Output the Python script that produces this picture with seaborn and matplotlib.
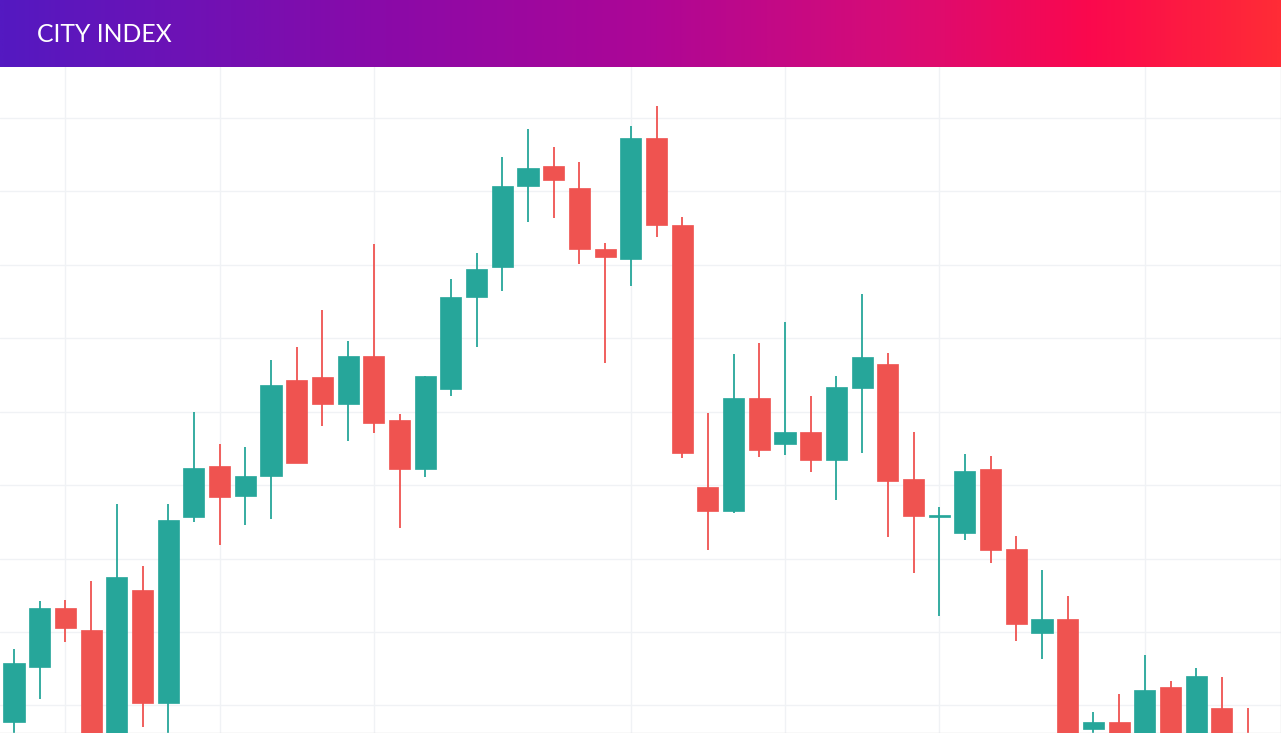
import numpy as np
import pandas as pd
import matplotlib
matplotlib.use("Agg")
import matplotlib.pyplot as plt
from matplotlib.colors import LinearSegmentedColormap
import seaborn as sns

# OHLC values (price units, grid every 10)
opens = [97.75, 105.28, 113.32, 110.28, 92.58, 115.73, 100.30, 125.63, 132.61, 128.57,
         131.25, 144.32, 144.69, 141.05, 147.63, 138.88, 132.16, 143.10, 155.58, 159.75,
         170.74, 173.46, 170.47, 162.16, 160.80, 177.31, 165.47, 129.71, 126.48, 141.83,
         135.57, 137.24, 133.47, 143.27, 146.46, 130.88, 125.67, 123.53, 132.20, 121.27,
         109.91, 111.74, 96.76, 97.79, 94.62, 102.56, 95.30, 99.62, 95.30]
highs = [107.69, 114.27, 114.37, 116.95, 127.40, 119.03, 127.40, 140.01, 135.61, 135.16,
         147.05, 148.86, 153.85, 149.63, 162.84, 139.65, 144.87, 158.03, 161.57, 174.65,
         178.50, 176.01, 174.05, 163.02, 178.95, 181.67, 166.56, 139.87, 147.82, 149.32,
         152.26, 142.18, 144.87, 155.99, 147.96, 137.28, 126.96, 134.20, 133.97, 123.08,
         118.45, 114.95, 99.07, 101.57, 106.88, 103.34, 105.07, 103.92, 99.62]
lows = [95.98, 100.89, 108.69, 91.22, 90.54, 97.03, 95.30, 125.03, 121.90, 124.54,
        125.35, 133.02, 138.06, 136.02, 137.15, 124.21, 131.16, 142.18, 148.75, 156.44,
        165.80, 166.38, 160.16, 146.68, 157.12, 163.75, 133.74, 121.17, 126.17, 133.80,
        134.11, 131.84, 127.98, 134.34, 122.90, 118.00, 112.25, 122.54, 119.44, 108.82,
        106.29, 95.30, 95.98, 93.94, 93.94, 94.62, 94.62, 93.94, 91.90]
closes = [105.79, 113.32, 110.55, 92.58, 117.50, 100.30, 125.26, 132.34, 128.43, 131.25,
          143.64, 133.02, 141.05, 147.63, 138.43, 132.16, 144.87, 155.66, 159.48, 170.78,
          173.15, 171.60, 162.12, 161.11, 177.31, 165.39, 134.34, 126.48, 141.83, 134.83,
          137.24, 133.47, 143.33, 147.50, 130.61, 125.80, 125.80, 131.93, 121.17, 111.10,
          111.74, 95.98, 97.79, 94.62, 102.11, 95.30, 104.02, 94.62, 92.58]

# candle indices where the time grid lines fall
time_grid = [2, 8, 14, 24, 30, 36, 44]
price_grid = [100, 110, 120, 130, 140, 150, 160, 170, 180]

UP = "#26a69a"
DOWN = "#ef5350"

df = pd.DataFrame({"open": opens, "high": highs, "low": lows, "close": closes})
df["idx"] = np.arange(len(df))
df["up"] = df["close"] >= df["open"]
df["color"] = np.where(df["up"], UP, DOWN)
df["bottom"] = df[["open", "close"]].min(axis=1)
df["height"] = (df["close"] - df["open"]).abs().clip(lower=0.25)

sns.set_theme(style="white")

W, H = 1281, 733
fig = plt.figure(figsize=(W / 100, H / 100), dpi=100)
head_h = 67

# header band with gradient
hax = fig.add_axes([0, 1 - head_h / H, 1, head_h / H])
cmap = LinearSegmentedColormap.from_list(
    "ci", [(0.0, "#5419c1"), (0.3, "#8a0aa8"), (0.5, "#ac0697"),
           (0.7, "#d80c76"), (0.85, "#fa084e"), (1.0, "#ff2c36")])
hax.imshow(np.linspace(0, 1, 512)[None, :], aspect="auto", cmap=cmap,
           extent=[0, 1, 0, 1])
hax.set_xlim(0, 1)
hax.set_ylim(0, 1)
hax.axis("off")
hax.text(37 / W, 0.49, "CITY INDEX", color="white", fontsize=17.8,
         family=["Lato", "DejaVu Sans"], va="center", ha="left")

# candlestick panel
ax = fig.add_axes([0, 0, 1, (H - head_h) / H])
for g in price_grid:
    ax.axhline(g, color="#f0f2f5", lw=1, zorder=0)
for g in time_grid:
    ax.axvline(g, color="#f0f2f5", lw=1, zorder=0)

ax.vlines(df["idx"], df["low"], df["high"], colors=df["color"], lw=1.3, zorder=2)
ax.bar(df["idx"], df["height"], bottom=df["bottom"], width=0.82,
       color=df["color"], edgecolor=df["color"], lw=0.5, zorder=3)

ax.set_xlim(-14 / 25.7, (W - 14) / 25.7)
ax.set_ylim(96.255, 186.94)
ax.set_xticks([])
ax.set_yticks([])
for side in ["top", "left"]:
    ax.spines[side].set_visible(False)
for side in ["bottom", "right"]:
    ax.spines[side].set_color("#dcdcdc")
    ax.spines[side].set_linewidth(1)

fig.savefig("out.png", dpi=100)
